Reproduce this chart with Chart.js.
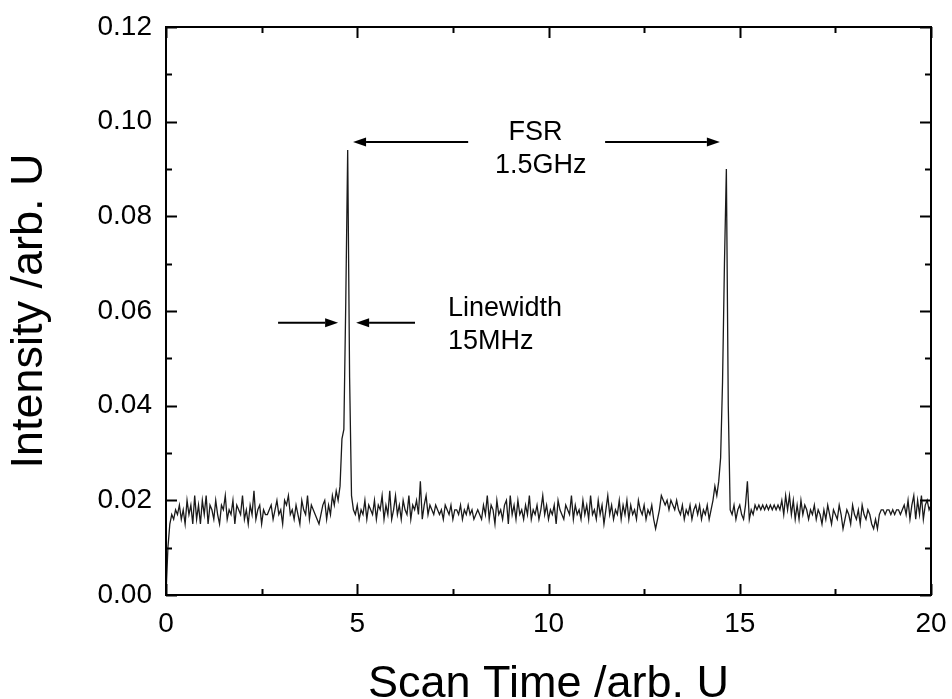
<!DOCTYPE html>
<html>
<head>
<meta charset="utf-8">
<title>Scan Time vs Intensity</title>
<script src="https://cdn.jsdelivr.net/npm/chart.js@4.4.1/dist/chart.umd.min.js"></script>
<style>
  html, body { margin: 0; padding: 0; background: #fff; }
  #scan-chart { display: block; }
</style>
</head>
<body>
<canvas id="scan-chart" width="952" height="699"></canvas>
<script>
// Scan time sampling (arb. U)
var SCAN_START = 0;
var SCAN_STEP = 0.05;

// Intensity, one row per unit of scan time (20 samples each)
var intensity = [
  0.000, 0.010, 0.015, 0.017, 0.016, 0.018, 0.017, 0.019, 0.016, 0.018, 0.015, 0.020, 0.017, 0.019, 0.015, 0.021, 0.016, 0.019, 0.015, 0.020,
  0.017, 0.021, 0.015, 0.019, 0.018, 0.016, 0.020, 0.017, 0.015, 0.019, 0.018, 0.021, 0.016, 0.018, 0.017, 0.020, 0.015, 0.019, 0.018, 0.017,
  0.021, 0.016, 0.018, 0.015, 0.019, 0.017, 0.022, 0.016, 0.018, 0.019, 0.015, 0.018, 0.017, 0.017, 0.018, 0.019, 0.016, 0.018, 0.020, 0.017,
  0.018, 0.015, 0.020, 0.019, 0.021, 0.017, 0.018, 0.016, 0.019, 0.017, 0.015, 0.020, 0.018, 0.017, 0.021, 0.016, 0.019, 0.018, 0.017, 0.016,
  0.015, 0.017, 0.019, 0.020, 0.016, 0.019, 0.017, 0.021, 0.019, 0.022, 0.020, 0.023, 0.033, 0.035, 0.062, 0.094, 0.046, 0.021, 0.018, 0.017,
  0.019, 0.016, 0.018, 0.017, 0.020, 0.016, 0.019, 0.018, 0.017, 0.020, 0.016, 0.019, 0.018, 0.021, 0.016, 0.019, 0.017, 0.022, 0.016, 0.018,
  0.021, 0.017, 0.019, 0.016, 0.020, 0.018, 0.017, 0.021, 0.016, 0.019, 0.018, 0.020, 0.017, 0.024, 0.016, 0.019, 0.021, 0.017, 0.019, 0.018,
  0.017, 0.019, 0.018, 0.017, 0.018, 0.016, 0.019, 0.018, 0.017, 0.019, 0.016, 0.018, 0.018, 0.017, 0.019, 0.016, 0.018, 0.017, 0.019, 0.017,
  0.018, 0.016, 0.017, 0.018, 0.017, 0.016, 0.019, 0.017, 0.021, 0.016, 0.019, 0.018, 0.015, 0.020, 0.017, 0.018, 0.016, 0.019, 0.020, 0.015,
  0.021, 0.017, 0.019, 0.016, 0.020, 0.017, 0.018, 0.016, 0.019, 0.017, 0.021, 0.016, 0.018, 0.017, 0.019, 0.016, 0.018, 0.021, 0.017, 0.019,
  0.016, 0.018, 0.017, 0.019, 0.015, 0.020, 0.018, 0.017, 0.016, 0.019, 0.018, 0.017, 0.021, 0.016, 0.019, 0.017, 0.018, 0.016, 0.020, 0.017,
  0.019, 0.016, 0.021, 0.017, 0.018, 0.016, 0.020, 0.017, 0.019, 0.015, 0.018, 0.021, 0.017, 0.019, 0.016, 0.018, 0.017, 0.020, 0.016, 0.019,
  0.017, 0.020, 0.016, 0.019, 0.017, 0.018, 0.016, 0.020, 0.018, 0.017, 0.019, 0.016, 0.018, 0.017, 0.019, 0.016, 0.014, 0.016, 0.018, 0.021,
  0.020, 0.019, 0.020, 0.018, 0.020, 0.019, 0.018, 0.020, 0.018, 0.017, 0.019, 0.016, 0.018, 0.017, 0.019, 0.016, 0.018, 0.019, 0.017, 0.019,
  0.016, 0.018, 0.017, 0.019, 0.016, 0.018, 0.020, 0.023, 0.021, 0.024, 0.029, 0.045, 0.070, 0.090, 0.040, 0.018, 0.017, 0.019, 0.016, 0.018,
  0.019, 0.017, 0.016, 0.019, 0.024, 0.016, 0.018, 0.017, 0.019, 0.018, 0.019, 0.018, 0.019, 0.018, 0.019, 0.018, 0.019, 0.018, 0.019, 0.018,
  0.019, 0.018, 0.020, 0.017, 0.021, 0.018, 0.021, 0.017, 0.020, 0.016, 0.019, 0.016, 0.020, 0.017, 0.019, 0.018, 0.016, 0.018, 0.017, 0.019,
  0.016, 0.018, 0.017, 0.015, 0.018, 0.016, 0.019, 0.017, 0.015, 0.018, 0.017, 0.016, 0.019, 0.017, 0.014, 0.016, 0.018, 0.017, 0.015, 0.019,
  0.017, 0.016, 0.018, 0.015, 0.019, 0.017, 0.016, 0.018, 0.017, 0.015, 0.014, 0.016, 0.014, 0.017, 0.018, 0.018, 0.017, 0.018, 0.018, 0.017,
  0.018, 0.017, 0.018, 0.018, 0.017, 0.018, 0.019, 0.017, 0.020, 0.016, 0.019, 0.021, 0.016, 0.020, 0.017, 0.021, 0.016, 0.019, 0.020, 0.018,
  0.019
];

// Axis ticks
var xTicks = [0, 5, 10, 15, 20];
var xMinorTicks = [2.5, 7.5, 12.5, 17.5];
var yTicks = [0, 0.02, 0.04, 0.06, 0.08, 0.10, 0.12];
var yMinorTicks = [0.01, 0.03, 0.05, 0.07, 0.09, 0.11];

// Annotation texts
var fsrLabels = ['FSR', '1.5GHz'];
var linewidthLabels = ['Linewidth', '15MHz'];

/* --- Annotation placement, in axis units --- */
var annotationArrows = [
  { from: [7.90, 0.0957], to: [4.89, 0.0957] },
  { from: [11.48, 0.0957], to: [14.48, 0.0957] },
  { from: [2.93, 0.0575], to: [4.50, 0.0575] },
  { from: [6.51, 0.0575], to: [4.97, 0.0575] }
];
var annotationTexts = [
  { text: fsrLabels[0], x: 9.66, y: 0.0961, align: 'center' },
  { text: fsrLabels[1], x: 9.80, y: 0.0892, align: 'center' },
  { text: linewidthLabels[0], x: 7.37, y: 0.0590, align: 'left' },
  { text: linewidthLabels[1], x: 7.37, y: 0.0520, align: 'left' }
];

var FONT = '"Liberation Sans", Arial, Helvetica, sans-serif';

// Pair every intensity sample with its scan time
var tracePoints = intensity.map(function(value, i) {
  return { x: SCAN_START + i * SCAN_STEP, y: value };
});

function tickList(values) {
  return values.map(function(v) { return { value: v }; });
}

// Frame on four sides with inward ticks, mirrored on top and right
var frameAndTicks = {
  id: 'frameAndTicks',
  afterDatasetsDraw: function(chart) {
    var ctx = chart.ctx;
    var area = chart.chartArea;
    var xScale = chart.scales.x;
    var yScale = chart.scales.y;
    var majorLen = 11;
    var minorLen = 6;

    ctx.save();
    ctx.strokeStyle = '#000';
    ctx.lineWidth = 2;
    ctx.strokeRect(area.left, area.top, area.right - area.left, area.bottom - area.top);

    function xTick(value, len) {
      var px = Math.round(xScale.getPixelForValue(value)) + 0.5;
      ctx.moveTo(px, area.bottom);
      ctx.lineTo(px, area.bottom - len);
      ctx.moveTo(px, area.top);
      ctx.lineTo(px, area.top + len);
    }
    function yTick(value, len) {
      var py = Math.round(yScale.getPixelForValue(value)) + 0.5;
      ctx.moveTo(area.left, py);
      ctx.lineTo(area.left + len, py);
      ctx.moveTo(area.right, py);
      ctx.lineTo(area.right - len, py);
    }

    ctx.beginPath();
    xTicks.forEach(function(v) { xTick(v, majorLen); });
    xMinorTicks.forEach(function(v) { xTick(v, minorLen); });
    yTicks.forEach(function(v) { yTick(v, majorLen); });
    yMinorTicks.forEach(function(v) { yTick(v, minorLen); });
    ctx.stroke();
    ctx.restore();
  }
};

// Arrows and labels for FSR and linewidth
var annotations = {
  id: 'annotations',
  afterDraw: function(chart) {
    var ctx = chart.ctx;
    var xScale = chart.scales.x;
    var yScale = chart.scales.y;

    ctx.save();
    ctx.strokeStyle = '#000';
    ctx.fillStyle = '#000';
    ctx.lineWidth = 2;

    annotationArrows.forEach(function(arrow) {
      var x1 = xScale.getPixelForValue(arrow.from[0]);
      var y1 = yScale.getPixelForValue(arrow.from[1]);
      var x2 = xScale.getPixelForValue(arrow.to[0]);
      var y2 = yScale.getPixelForValue(arrow.to[1]);
      var dir = x2 > x1 ? 1 : -1;
      var headLen = 13;
      var headHalf = 4.5;

      ctx.beginPath();
      ctx.moveTo(x1, y1);
      ctx.lineTo(x2 - dir * headLen, y2);
      ctx.stroke();

      ctx.beginPath();
      ctx.moveTo(x2, y2);
      ctx.lineTo(x2 - dir * headLen, y2 - headHalf);
      ctx.lineTo(x2 - dir * headLen, y2 + headHalf);
      ctx.closePath();
      ctx.fill();
    });

    ctx.font = '27px ' + FONT;
    ctx.textBaseline = 'alphabetic';
    annotationTexts.forEach(function(item) {
      ctx.textAlign = item.align;
      ctx.fillText(item.text, xScale.getPixelForValue(item.x), yScale.getPixelForValue(item.y));
    });
    ctx.restore();
  }
};

var scanChart = new Chart(document.getElementById('scan-chart'), {
  type: 'line',
  data: {
    datasets: [{
      data: tracePoints,
      borderColor: '#1a1a1a',
      borderWidth: 1.3,
      pointRadius: 0,
      tension: 0,
      fill: false
    }]
  },
  options: {
    responsive: false,
    animation: false,
    devicePixelRatio: 1,
    layout: { padding: { top: 27, right: 21, left: 0, bottom: 0 } },
    plugins: {
      legend: { display: false },
      tooltip: { enabled: false }
    },
    scales: {
      x: {
        type: 'linear',
        min: 0,
        max: 20,
        afterBuildTicks: function(scale) { scale.ticks = tickList(xTicks); },
        afterFit: function(scale) {
          // Fixed box height; labels must not push the plot edges
          scale.height = 104;
          scale.paddingLeft = 0;
          scale.paddingRight = 0;
        },
        grid: { display: false, drawTicks: false },
        border: { display: false },
        ticks: {
          color: '#000',
          padding: 12,
          maxRotation: 0,
          font: { family: FONT, size: 28 }
        },
        title: {
          display: true,
          text: 'Scan Time /arb. U',
          color: '#000',
          font: { family: FONT, size: 45, lineHeight: 0.64 },
          padding: { top: 0, bottom: 0 }
        }
      },
      y: {
        type: 'linear',
        min: 0,
        max: 0.12,
        afterBuildTicks: function(scale) { scale.ticks = tickList(yTicks); },
        afterFit: function(scale) {
          scale.width = 166;
          scale.paddingTop = 0;
          scale.paddingBottom = 0;
        },
        grid: { display: false, drawTicks: false },
        border: { display: false },
        ticks: {
          color: '#000',
          padding: 14,
          font: { family: FONT, size: 28 },
          callback: function(value) { return value.toFixed(2); }
        },
        title: {
          display: true,
          text: 'Intensity /arb. U',
          color: '#000',
          font: { family: FONT, size: 45 },
          padding: { top: 3, bottom: 0 }
        }
      }
    }
  },
  plugins: [frameAndTicks, annotations]
});
</script>
</body>
</html>
